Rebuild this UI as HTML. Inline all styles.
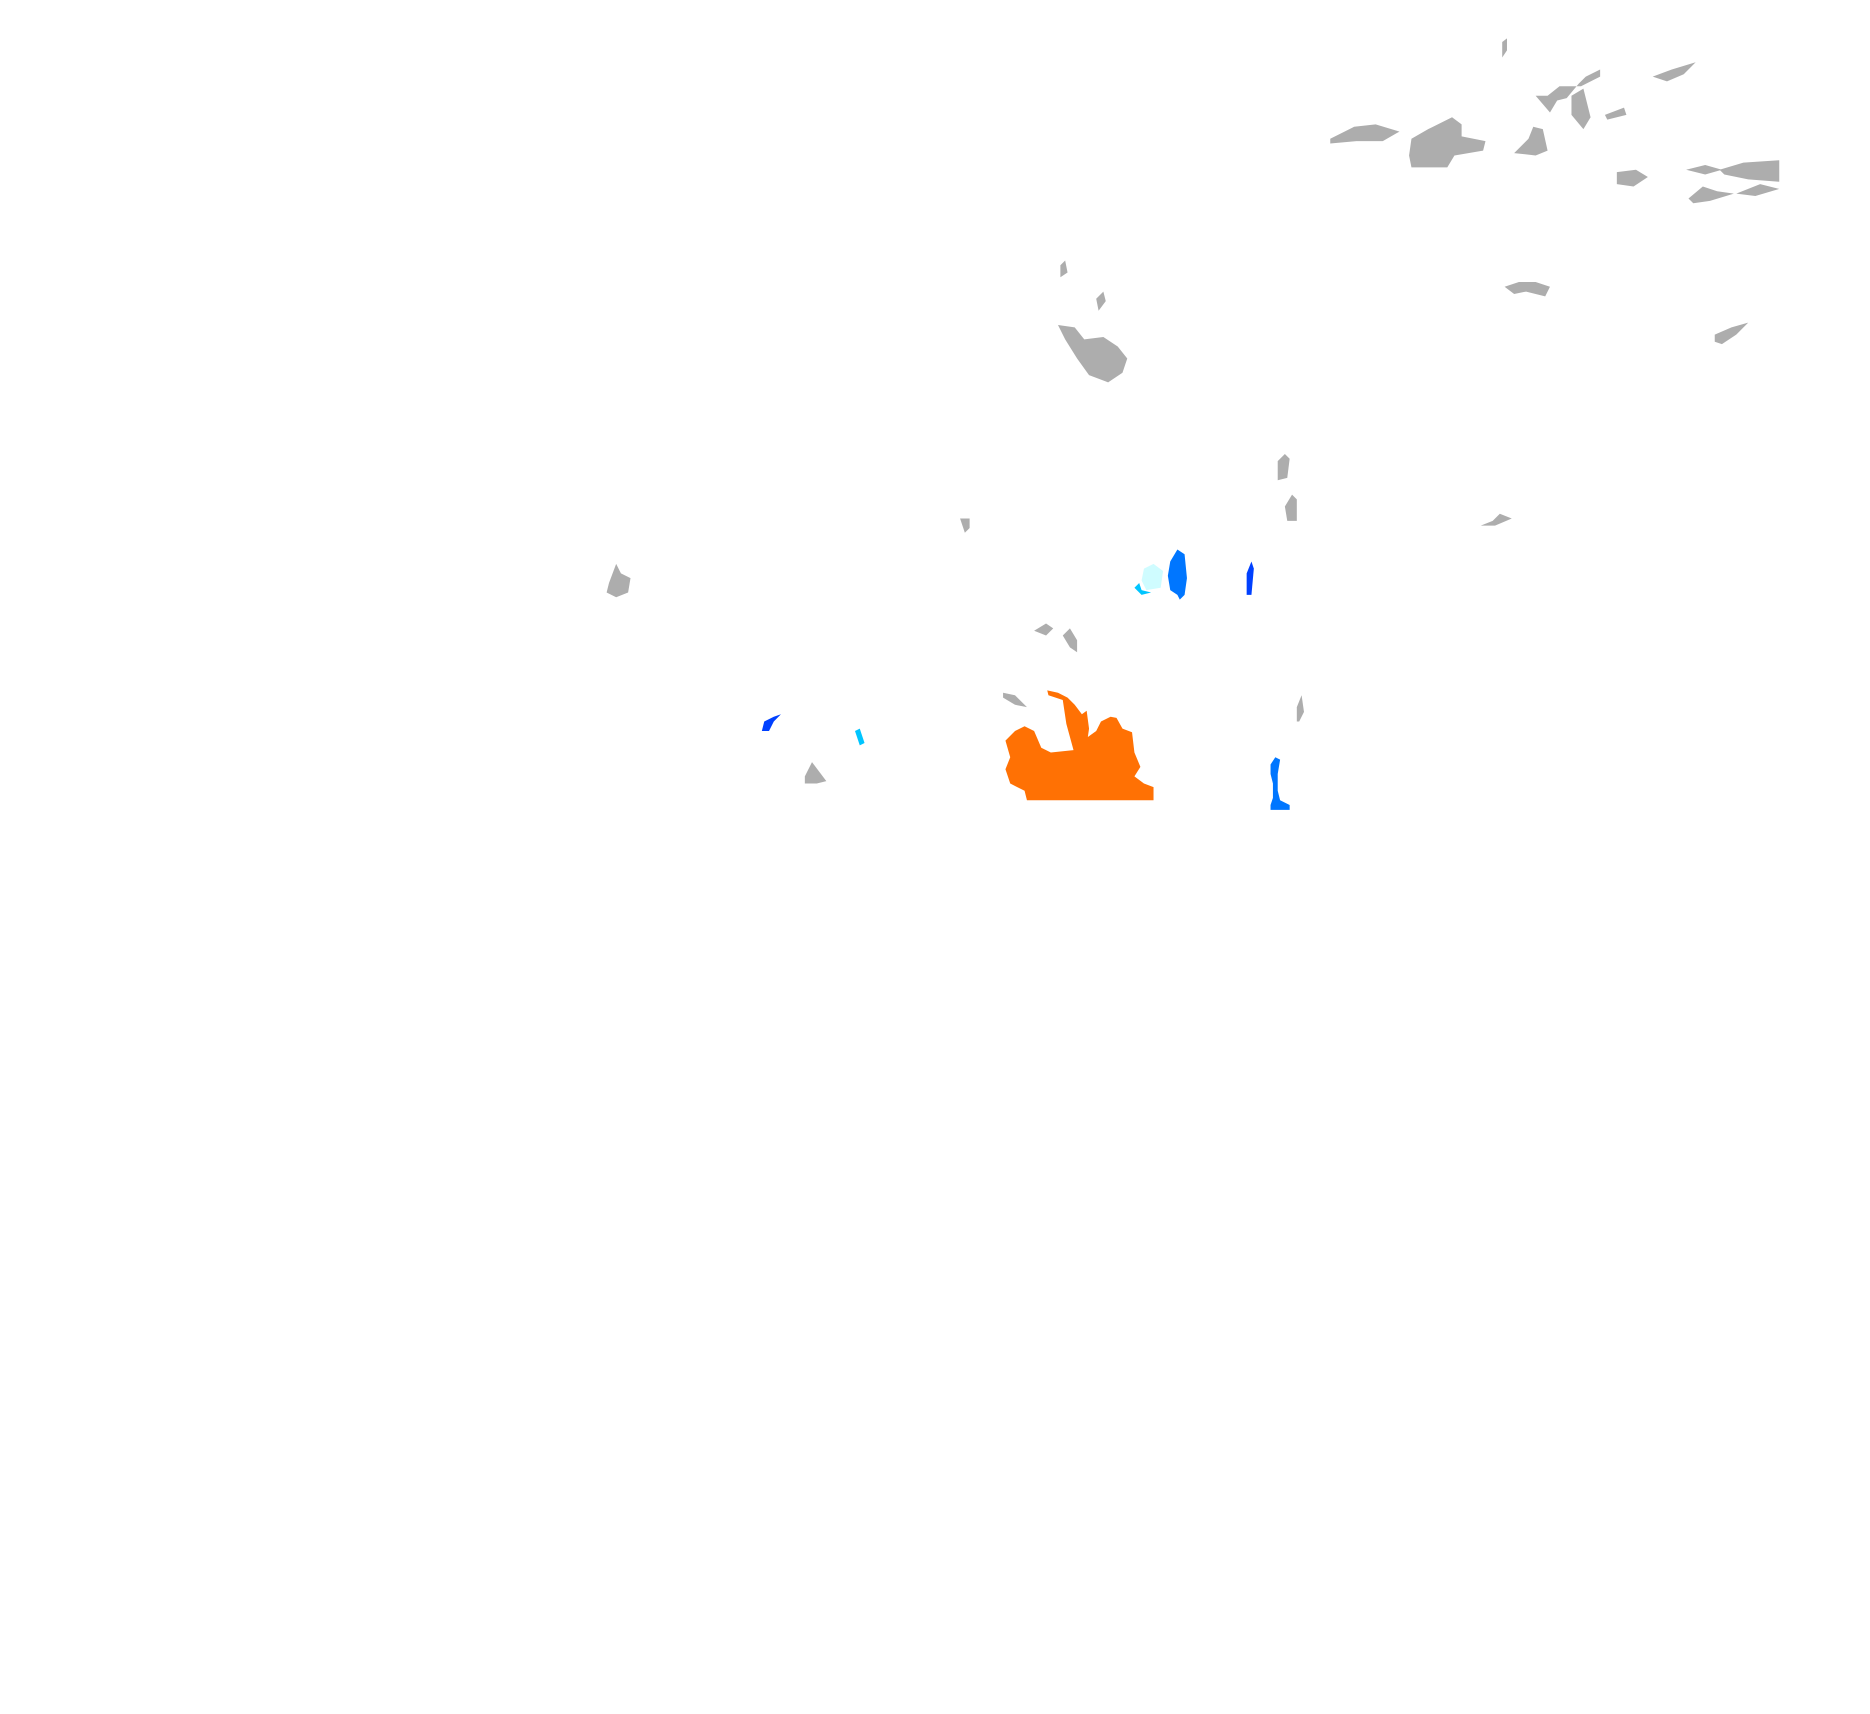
<!DOCTYPE html>
<html><head><meta charset="utf-8"><style>html,body{margin:0;padding:0;background:#fff}svg{display:block}</style></head>
<body>
<svg width="1870" height="1714" viewBox="0 0 1566 1435" xmlns="http://www.w3.org/2000/svg">
<g fill="#adadad">
<path d="M1258 35l4 -3 0 10 -4 6z"/>
<path d="M1114 116l20 -10 18 -2 20 6 -14 8 -22 0 -22 2z"/>
<path d="M1182 116l14 -8 20 -10 8 6 0 10 20 4 -2 8 -24 4 -6 10 -30 0 -2 -10z"/>
<path d="M1268 128l12 -12 4 -10 8 2 4 18 -10 4z"/>
<path d="M1286 80l10 0 10 -8 18 0 16 -8 0 -6 -12 6 -6 6 -10 12 -8 2 -6 10z"/>
<path d="M1316 80l10 -6 6 24 -6 10 -10 -12z"/>
<path d="M1344 96l16 -6 2 6 -16 4z"/>
<path d="M1384 64l16 -6 20 -6 -10 10 -14 6z"/>
<path d="M1354 144l16 -2 10 6 -12 8 -14 -2z"/>
<path d="M1412 142l16 -4 14 4 -14 4z M1440 142l20 -6 30 -2 0 18 -26 -2 -20 -4z M1414 166l12 -10 12 4 14 2 -20 6 -14 2z M1454 162l20 -8 16 4 -20 6z"/>
<path d="M888 222l4 -4 2 10 -6 4z M918 250l6 -6 2 8 -6 8z"/>
<path d="M886 272l14 2 8 10 16 -2 12 8 8 10 -4 12 -12 8 -16 -6 -10 -14 -10 -16z"/>
<path d="M1260 240l12 -4 14 0 12 4 -4 8 -16 -4 -10 2z"/>
<path d="M1436 280l14 -6 14 -4 -10 10 -12 8 -6 -2z"/>
<path d="M1070 386l6 -6 4 4 -2 16 -8 2z M1076 424l6 -10 4 4 0 18 -8 0z"/>
<path d="M1240 440l10 -4 6 -6 10 4 -14 6z"/>
<path d="M804 434l8 0 0 8 -4 4z"/>
<path d="M510 488l6 -16 4 8 8 4 -2 12 -10 4 -8 -4z"/>
<path d="M866 528l10 -6 6 4 -6 6z M890 532l6 -6 6 10 0 10 -6 -4z"/>
<path d="M840 580l10 2 10 10 -10 -2 -10 -6z"/>
<path d="M1086 592l4 -10 2 14 -4 8 -2 0z"/>
<path d="M674 650l6 -12 6 8 6 8 -8 2 -10 0z"/>
</g>
<path fill="#ff7104" d="M860 670L858 662 846 656 842 644 846 634 842 620 850 612 858 608 866 612 872 626 880 630 899 628 893 606 890 586 878 582 877 578 886 580 894 584 900 590 906 598 910 595 912 610 911 617 918 612 922 604 930 600 935 601 940 610 948 613 950 630 955 642 950 650 958 656 966 659 966 670Z"/>
<path fill="#0076ff" d="M980 470l6 -10 6 4 2 20 -2 14 -4 4 -2 -4 -6 -4 -2 -12z"/>
<path fill="#cffcff" d="M958 476l8 -4 8 6 -2 14 -12 2 -4 -8z"/>
<path fill="#00c5ff" d="M950 492l4 -4 2 6 8 2 -8 2z"/>
<path fill="#0040ff" d="M1044 480l4 -10 2 6 -2 22 -4 0z"/>
<path fill="#0040ff" d="M640 604l8 -4 6 -2 -6 6 -4 8 -6 0z"/>
<path fill="#00c5ff" d="M716 612l4 -2 4 12 -4 2z"/>
<path fill="#0076ff" d="M1064 640l4 -6 4 2 -2 12 0 14 2 8 8 4 0 4 -16 0 0 -4 2 -6 0 -12 -2 -8z"/>
</svg>
</body></html>
